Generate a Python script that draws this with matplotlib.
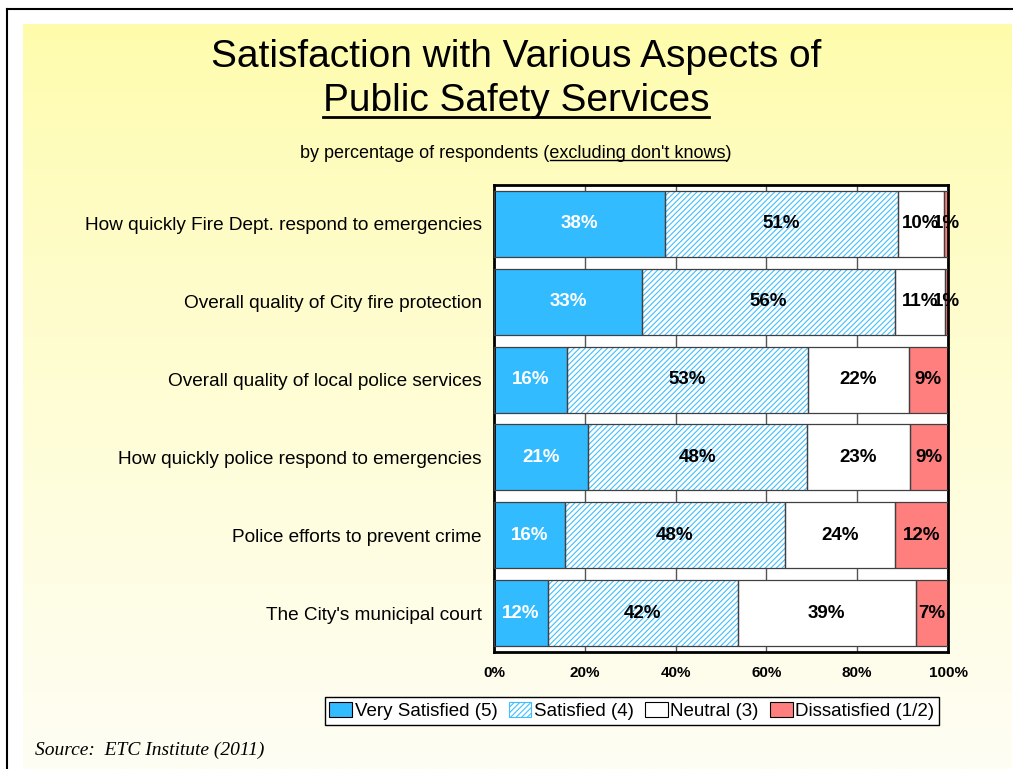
import numpy as np
import matplotlib
matplotlib.use("Agg")
import matplotlib.pyplot as plt
from matplotlib.patches import Patch
from matplotlib.lines import Line2D

plt.rcParams['font.family'] = ['Liberation Sans', 'DejaVu Sans']
plt.rcParams['hatch.linewidth'] = 0.8

questions = [
    "How quickly Fire Dept. respond to emergencies",
    "Overall quality of City fire protection",
    "Overall quality of local police services",
    "How quickly police respond to emergencies",
    "Police efforts to prevent crime",
    "The City's municipal court",
]
very_satisfied = [37.6, 32.7, 16.0, 20.6, 15.6, 11.8]
satisfied = [51.3, 55.6, 53.2, 48.4, 48.4, 41.9]
neutral = [10.3, 11.0, 22.1, 22.6, 24.3, 39.2]
dissatisfied = [0.8, 0.7, 8.7, 8.6, 11.7, 7.1]
series_names = ["Very Satisfied (5)", "Satisfied (4)", "Neutral (3)", "Dissatisfied (1/2)"]
ticks = [0, 20, 40, 60, 80, 100]

W, H = 1013, 769
fig = plt.figure(figsize=(W / 100, H / 100), dpi=100)
fig.patch.set_facecolor('white')

# yellow gradient page background
bg = fig.add_axes([23 / W, 0, (1011 - 23) / W, 1 - 24 / H])
top = np.array([255, 252, 170]) / 255
bot = np.array([254, 254, 244]) / 255
t = np.linspace(0, 1, 256)[:, None] ** 0.8
grad = (top * (1 - t) + bot * t)[:, None, :]
bg.imshow(grad, aspect='auto', extent=[0, 1, 0, 1])
bg.axis('off')
fig.add_artist(Line2D([7 / W, 1], [1 - 9 / H, 1 - 9 / H], color='black', lw=1.5))
fig.add_artist(Line2D([7 / W, 7 / W], [0, 1 - 9 / H], color='black', lw=1.5))

ax = fig.add_axes([494 / W, 1 - 652 / H, 454 / W, 467 / H])
ax.set_facecolor('white')
y = np.arange(len(questions))
h = 0.85
colors = ['#33BBFF', 'white', 'white', '#FF7F7F']
data = [very_satisfied, satisfied, neutral, dissatisfied]
left = np.zeros(len(questions))
for i, vals in enumerate(data):
    vals = np.array(vals)
    if i == 1:
        ax.barh(y, vals, left=left, height=h, color='white', edgecolor='#40BFFF',
                hatch='//////', lw=0, zorder=2)
    else:
        ax.barh(y, vals, left=left, height=h, color=colors[i], lw=0, zorder=2)
    ax.barh(y, vals, left=left, height=h, fill=False, edgecolor='#404040', lw=0.9, zorder=3)
    for yy, l, v in zip(y, left, vals):
        ax.text(l + v / 2, yy, f"{round(v):.0f}%", ha='center', va='center',
                fontsize=13.5, fontweight='bold', color='white' if i == 0 else 'black', zorder=4)
    left += vals

ax.set_xlim(0, 100)
ax.set_ylim(len(questions) - 0.5, -0.5)
ax.set_xticks(ticks)
ax.set_xticklabels([f"{v}%" for v in ticks], fontweight='bold', fontsize=11)
ax.set_yticks(y)
ax.set_yticklabels(questions, fontsize=13.7)
ax.tick_params(axis='x', length=0, pad=10)
ax.tick_params(axis='y', length=0, pad=9)
ax.xaxis.grid(True, color='#555555', lw=1, zorder=0)
ax.set_axisbelow(True)
for s in ax.spines.values():
    s.set_linewidth(2)
    s.set_color('black')

# titles
t1 = fig.text(516 / W, 1 - 57 / H, "Satisfaction with Various Aspects of", ha='center', va='center', fontsize=28)
t2 = fig.text(516 / W, 1 - 101 / H, "Public Safety Services", ha='center', va='center', fontsize=28)
sub = "by percentage of respondents (excluding don't knows)"
sub_fs = 13
t3 = fig.text(516 / W, 1 - 153 / H, sub, ha='center', va='center', fontsize=sub_fs)

fig.canvas.draw()
r = fig.canvas.get_renderer()
inv = fig.transFigure.inverted()
bb = t2.get_window_extent(r)
(x0, y0), (x1, _) = inv.transform([(bb.x0, bb.y0 + 2), (bb.x1, bb.y1)])
fig.add_artist(Line2D([x0, x1], [y0, y0], color='black', lw=2))

bb = t3.get_window_extent(r)
pre = fig.text(0, 0, "by percentage of respondents (", fontsize=sub_fs)
mid = fig.text(0, 0, "excluding don't knows", fontsize=sub_fs)
pw = pre.get_window_extent(r).width
mw = mid.get_window_extent(r).width
pre.remove()
mid.remove()
(ux0, uy), (ux1, _) = inv.transform([(bb.x0 + pw, bb.y0 + 2), (bb.x0 + pw + mw, bb.y1)])
fig.add_artist(Line2D([ux0, ux1], [uy, uy], color='black', lw=1))

handles = [
    Patch(facecolor='#33BBFF', edgecolor='black', lw=0.8),
    Patch(facecolor='white', edgecolor='#40BFFF', hatch='//////', lw=0.8),
    Patch(facecolor='white', edgecolor='black', lw=0.8),
    Patch(facecolor='#FF7F7F', edgecolor='black', lw=0.8),
]
leg = fig.legend(handles, series_names, loc='center', ncol=4, bbox_to_anchor=(632 / W, 1 - 711 / H),
                 fontsize=13.5, handlelength=1.2, handleheight=0.8, handletextpad=0.15,
                 columnspacing=0.6, borderpad=0.25, fancybox=False, framealpha=1, edgecolor='black')
leg.get_frame().set_linewidth(1)

fig.text(35 / W, 1 - 750 / H, "Source:  ETC Institute (2011)", ha='left', va='center',
         fontsize=14, style='italic', family=['Liberation Serif', 'DejaVu Serif'])

fig.savefig("out.png", dpi=100)
